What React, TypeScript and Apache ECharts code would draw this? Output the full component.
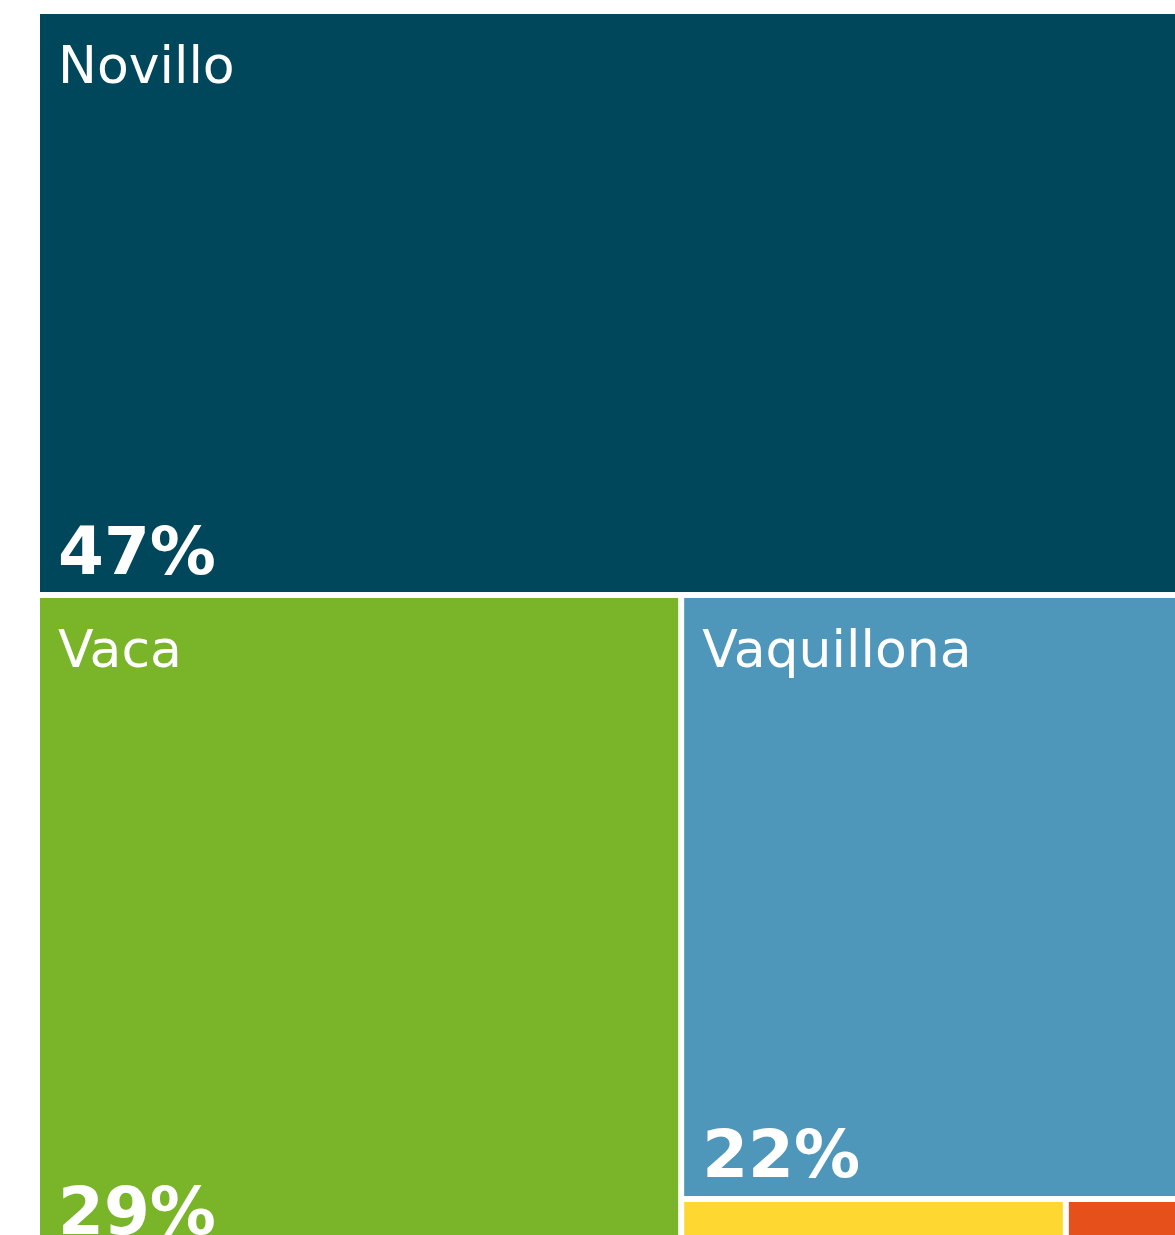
import React, { useEffect, useRef } from "react";
import * as echarts from "echarts";

const categories = ["Novillo", "Vaca", "Vaquillona", "Toro", "Ternero"];
const values = [46.95, 29.01, 22.0, 1.47, 0.57];
const colors = ["#01475C", "#79B429", "#4E97BA", "#FED830", "#E5501B"];
const labelVisible = [true, true, true, false, false];

const total = values.reduce((a, b) => a + b, 0);

export default function App() {
  const ref = useRef<HTMLDivElement>(null);
  useEffect(() => {
    if (!ref.current) return;
    const chart = echarts.init(ref.current, null, { renderer: "svg" });
    const layout = { left: 40, top: 14, width: 1172, height: 1238 };
    const common = {
      type: "treemap",
      ...layout,
      squareRatio: 1,
      roam: false,
      nodeClick: false,
      breadcrumb: { show: false },
      emphasis: { disabled: true },
      silent: true,
    };
    const nameData = categories.map((c, i) => ({
      name: c,
      value: values[i],
      itemStyle: { color: colors[i] },
      label: { show: labelVisible[i] },
    }));
    const pctData = categories.map((c, i) => ({
      name: c,
      value: values[i],
      itemStyle: { color: "rgba(0,0,0,0)" },
      label: { show: labelVisible[i] },
    }));
    chart.setOption({
      animation: false,
      series: [
        {
          ...common,
          itemStyle: { borderWidth: 0, gapWidth: 6, borderColor: "#ffffff" },
          levels: [{ itemStyle: { borderWidth: 0, gapWidth: 6, borderColor: "#ffffff" } }],
          label: {
            show: true,
            position: "insideTopLeft",
            distance: 0,
            padding: [25, 0, 0, 18],
            color: "#ffffff",
            fontFamily: "DejaVu Sans",
            fontSize: 52,
            formatter: "{b}",
          },
          data: nameData,
        },
        {
          ...common,
          itemStyle: { borderWidth: 0, gapWidth: 6, borderColor: "rgba(0,0,0,0)" },
          levels: [{ itemStyle: { borderWidth: 0, gapWidth: 6, borderColor: "rgba(0,0,0,0)" } }],
          label: {
            show: true,
            position: "insideBottomLeft",
            distance: 0,
            padding: [0, 0, 8, 18],
            color: "#ffffff",
            fontFamily: "DejaVu Sans",
            fontWeight: "bold",
            fontSize: 66,
            formatter: (p: any) => Math.round((p.value / total) * 100) + "%",
          },
          data: pctData,
        },
      ],
    });
    return () => chart.dispose();
  }, []);
  return (
    <div
      style={{
        position: "fixed",
        left: 0,
        top: 0,
        width: 1175,
        height: 1235,
        overflow: "hidden",
      }}
    >
      <div ref={ref} style={{ width: 1230, height: 1270 }} />
    </div>
  );
}
